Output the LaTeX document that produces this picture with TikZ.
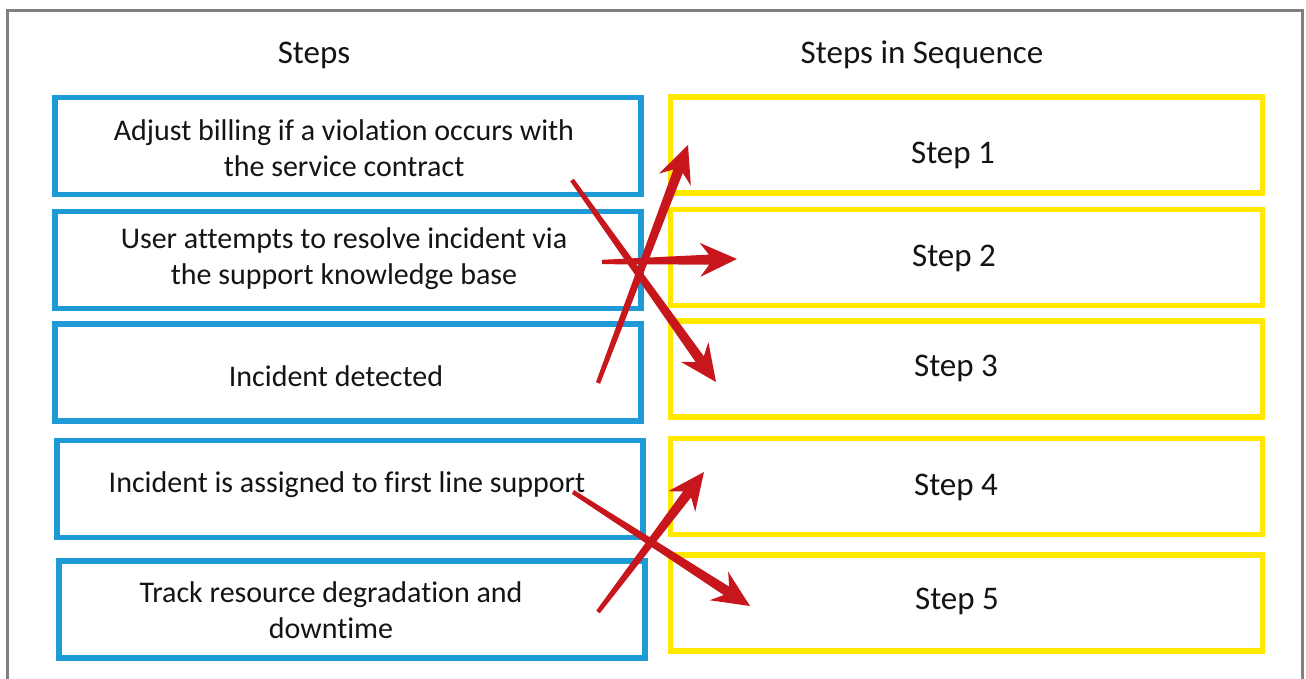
\documentclass[tikz,border=0pt]{standalone}
\usepackage{fontspec}
\setmainfont{Carlito}[Ligatures=NoCommon]
\usetikzlibrary{calc}
\definecolor{boxblue}{RGB}{30,155,215}
\definecolor{boxyellow}{RGB}{255,232,0}
\definecolor{arrowred}{RGB}{200,22,29}
\definecolor{framegray}{RGB}{128,128,128}
\definecolor{txt}{RGB}{20,20,20}
% tapered red arrow from #1 to #2
\newcommand\taperarrow[2]{%
  \fill[arrowred] ($(#1)!2.2pt!90:(#2)$) -- ($(#2)!28pt!(#1)!5pt!90:(#2)$)
    -- ($(#2)!37pt!(#1)!17pt!90:(#2)$) -- (#2)
    -- ($(#2)!37pt!(#1)!17pt!-90:(#2)$) -- ($(#2)!28pt!(#1)!5pt!-90:(#2)$)
    -- ($(#1)!2.2pt!-90:(#2)$) -- cycle;}
\begin{document}
\begin{tikzpicture}[x=1pt,y=-1pt,
  stepbox/.style={draw=boxblue, line width=5.5pt, minimum width=586pt, minimum height=97pt, inner sep=0pt},
  seqbox/.style={draw=boxyellow, line width=5.5pt, minimum width=592pt, minimum height=96pt, inner sep=0pt},
  steptext/.style={align=center, text=txt, font=\fontsize{30}{36}\selectfont},
  seqtext/.style={text=txt, font=\fontsize{33}{36}\selectfont},
  heading/.style={text=txt, font=\fontsize{33}{40}\selectfont}]
\useasboundingbox[fill=white] (0,0) rectangle (1306,679);
\draw[framegray, line width=3pt] (7.5,679) -- (7.5,10.5) -- (1302,10.5) -- (1302,679);
% headings
\node[heading] (hsteps) at (314,55) {Steps};
\node[heading] (hseq) at (922,55) {Steps in Sequence};
% steps
\node[stepbox] (s1) at (348,146) {};
\node[stepbox] (s2) at (348,260) {};
\node[stepbox] (s3) at (348,372.5) {};
\node[stepbox] (s4) at (350,489) {};
\node[stepbox] (s5) at (352,609.5) {};
\node[steptext] (l1) at (344,148) {Adjust billing if a violation occurs with\\the service contract};
\node[steptext] (l2) at (344,259) {User attempts to resolve incident via\\the support knowledge base};
\node[steptext] (l3) at (336,376) {Incident detected};
\node[steptext] (l4) at (347,485) {Incident is assigned to first line support};
\node[steptext] (l5) at (331,610) {Track resource degradation and\\downtime};
% sequence
\node[seqbox] (q1) at (966.5,145) {};
\node[seqbox] (q2) at (966.5,257.5) {};
\node[seqbox] (q3) at (966.5,369) {};
\node[seqbox] (q4) at (966.5,486.5) {};
\node[seqbox] (q5) at (966.5,603) {};
\node[seqtext] (m1) at (953,155) {Step 1};
\node[seqtext] (m2) at (954,258) {Step 2};
\node[seqtext] (m3) at (956,368) {Step 3};
\node[seqtext] (m4) at (956,487) {Step 4};
\node[seqtext] (m5) at (957,601) {Step 5};
% arrow ends
\coordinate (t1) at (598,383);
\coordinate (h1) at (688,145);
\coordinate (t2) at (602,262);
\coordinate (h2) at (737,259);
\coordinate (t3) at (572,180);
\coordinate (h3) at (716,382);
\coordinate (t4) at (598,612);
\coordinate (h4) at (704,472);
\coordinate (t5) at (573,492);
\coordinate (h5) at (750,606);
\taperarrow{t1}{h1}
\taperarrow{t2}{h2}
\taperarrow{t3}{h3}
\taperarrow{t4}{h4}
\taperarrow{t5}{h5}
\end{tikzpicture}
\end{document}
